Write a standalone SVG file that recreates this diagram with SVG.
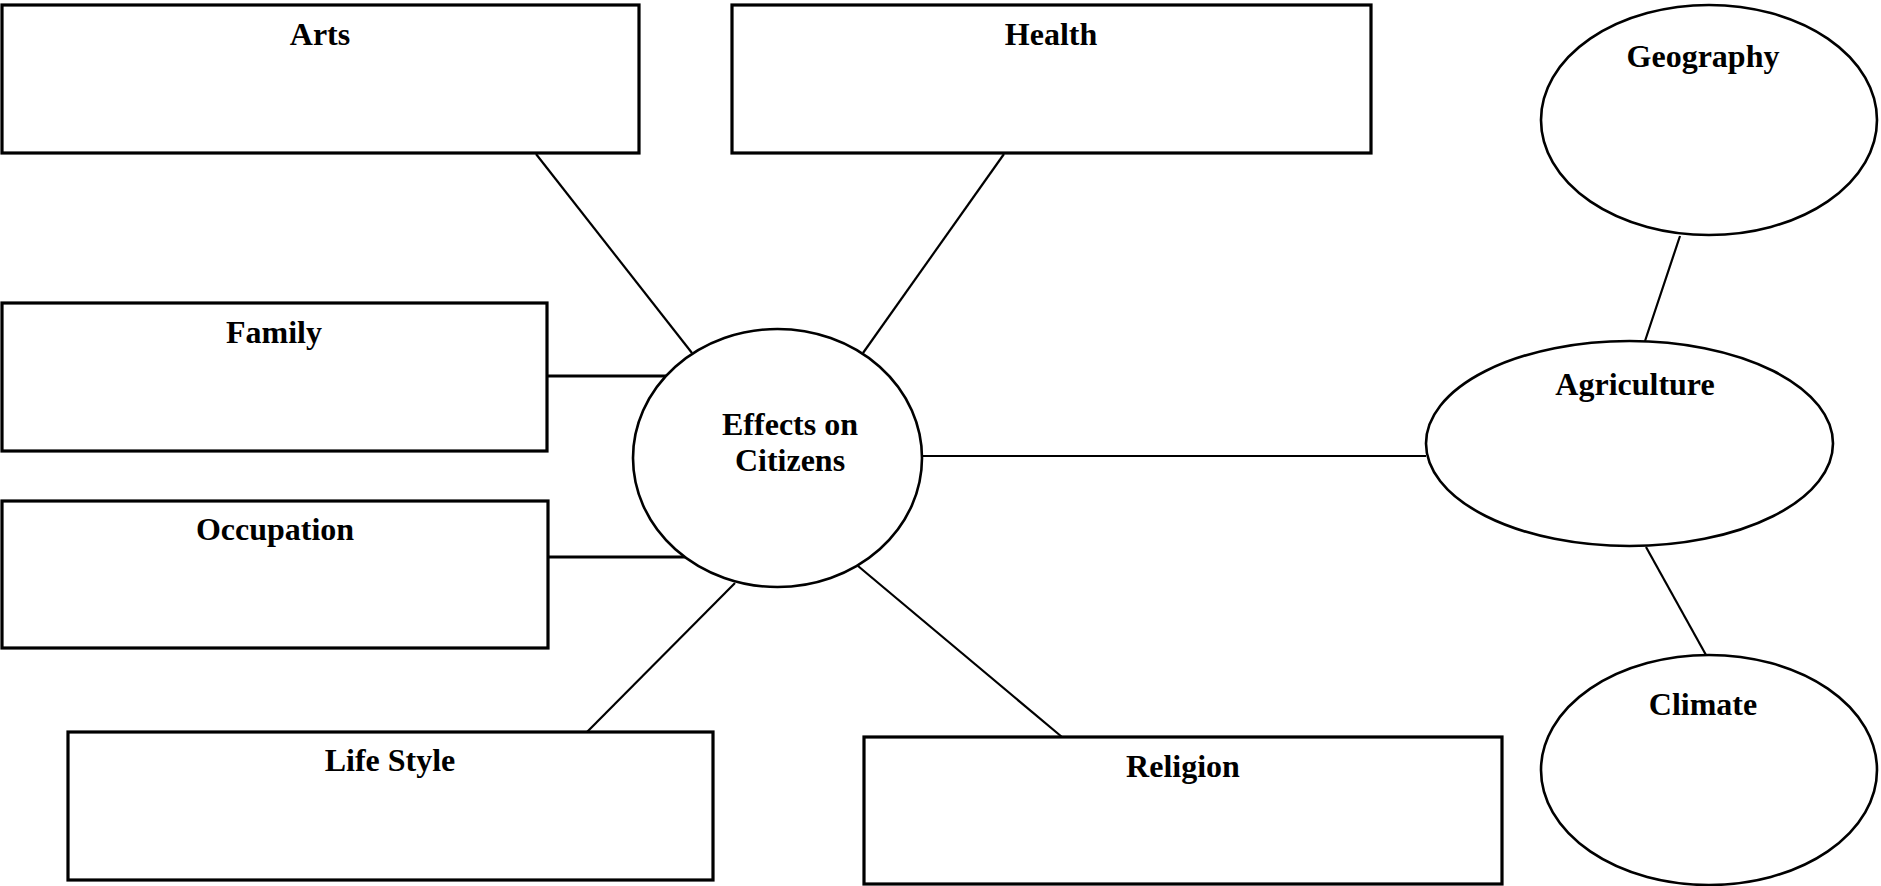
<svg xmlns="http://www.w3.org/2000/svg" width="1881" height="886" viewBox="0 0 1881 886">
  <style>
    .box { fill: #ffffff; stroke: #000000; stroke-width: 3.2; }
    .oval { fill: #ffffff; stroke: #000000; stroke-width: 2.6; }
    .link { stroke: #000000; stroke-width: 2.2; fill: none; }
    .link.thick { stroke-width: 3; }
    .label { font-family: "Liberation Serif", "Times New Roman", serif; font-weight: bold; font-size: 32px; text-anchor: middle; fill: #000000; }
  </style>
  <rect x="0" y="0" width="1881" height="886" fill="#ffffff"/>

  <!-- connectors -->
  <g id="connectors">
    <line class="link" x1="536" y1="154" x2="692" y2="353"/>
    <line class="link" x1="1004" y1="154" x2="863" y2="353"/>
    <line class="link thick" x1="547" y1="376" x2="667" y2="376"/>
    <line class="link thick" x1="548" y1="557" x2="685" y2="557"/>
    <line class="link" x1="587" y1="732" x2="735" y2="583"/>
    <line class="link" x1="1062" y1="737" x2="858" y2="566"/>
    <line class="link" x1="922" y1="456" x2="1426" y2="456"/>
    <line class="link" x1="1680" y1="236" x2="1645" y2="341"/>
    <line class="link" x1="1646" y1="547" x2="1706" y2="655"/>
  </g>

  <!-- topic boxes -->
  <g id="arts">
    <rect class="box" x="2" y="5" width="637" height="148"/>
    <text class="label" x="320" y="45">Arts</text>
  </g>
  <g id="health">
    <rect class="box" x="732" y="5" width="639" height="148"/>
    <text class="label" x="1051" y="45">Health</text>
  </g>
  <g id="family">
    <rect class="box" x="2" y="303" width="545" height="148"/>
    <text class="label" x="274" y="343">Family</text>
  </g>
  <g id="occupation">
    <rect class="box" x="2" y="501" width="546" height="147"/>
    <text class="label" x="275" y="540">Occupation</text>
  </g>
  <g id="life-style">
    <rect class="box" x="68" y="732" width="645" height="148"/>
    <text class="label" x="390" y="771">Life Style</text>
  </g>
  <g id="religion">
    <rect class="box" x="864" y="737" width="638" height="147"/>
    <text class="label" x="1183" y="777">Religion</text>
  </g>

  <!-- central topic -->
  <g id="effects">
    <ellipse class="oval" cx="777.5" cy="458" rx="144.5" ry="129"/>
    <text class="label" x="790" y="435">Effects on</text>
    <text class="label" x="790" y="471">Citizens</text>
  </g>

  <!-- agriculture cluster -->
  <g id="geography">
    <ellipse class="oval" cx="1709" cy="120" rx="168" ry="115"/>
    <text class="label" x="1703" y="67">Geography</text>
  </g>
  <g id="agriculture">
    <ellipse class="oval" cx="1629.5" cy="443.5" rx="203.5" ry="102.5"/>
    <text class="label" x="1635" y="395">Agriculture</text>
  </g>
  <g id="climate">
    <ellipse class="oval" cx="1709" cy="770" rx="168" ry="115"/>
    <text class="label" x="1703" y="715">Climate</text>
  </g>
</svg>
